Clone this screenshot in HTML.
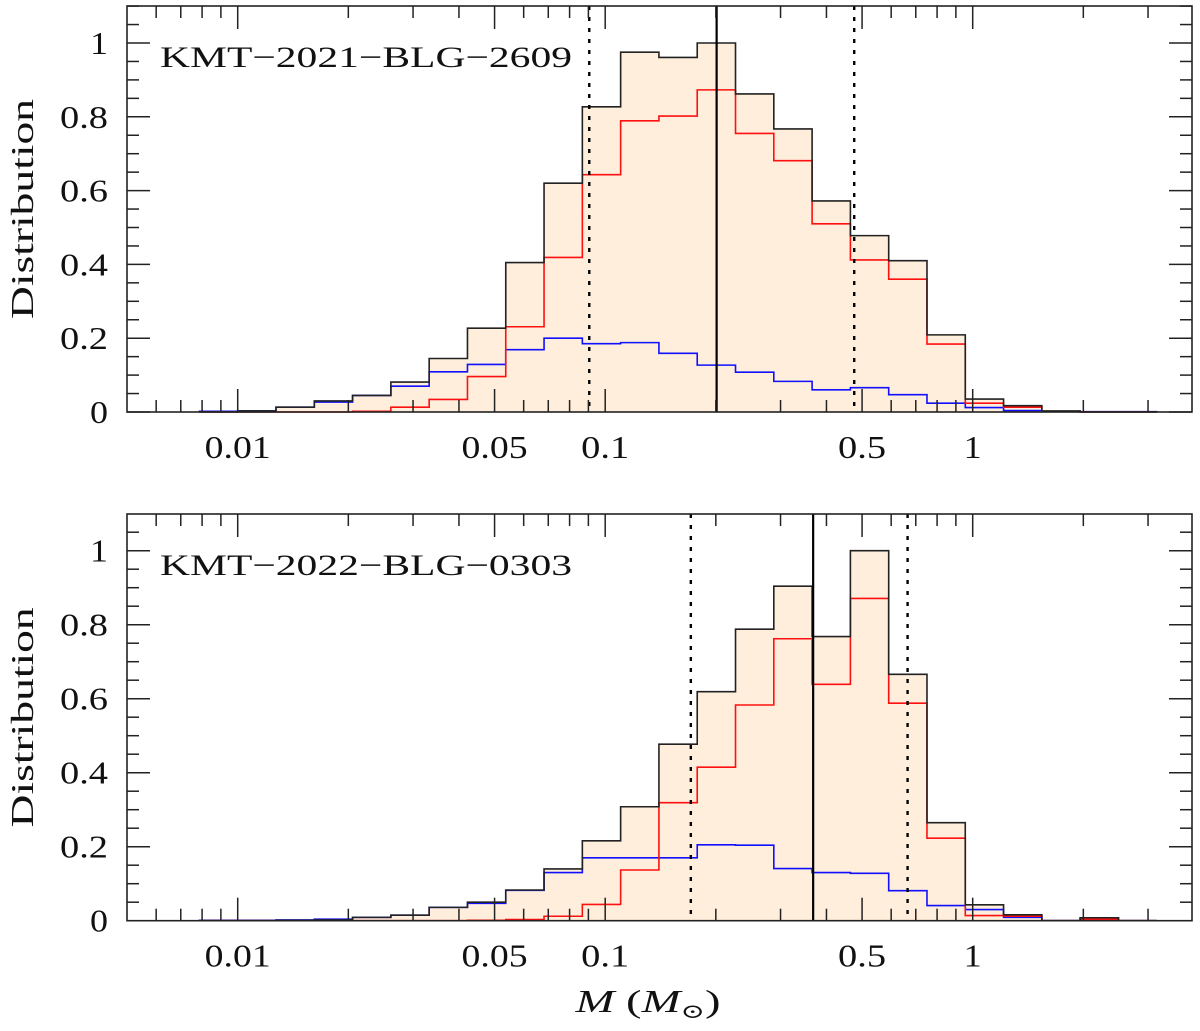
<!DOCTYPE html>
<html><head><meta charset="utf-8"><style>
html,body{margin:0;padding:0;background:#fff;}
svg{display:block;font-family:"Liberation Serif","DejaVu Serif",serif;}
</style></head><body>
<svg id="chart" width="1200" height="1031" viewBox="0 0 1200 1031" xmlns="http://www.w3.org/2000/svg"></svg>
<script>
// ---- data ----
const binStartLog = -2.1042;
const binWidthLog = 0.1042;
const topTotal = [0,0.003,0.013,0.03,0.045,0.081,0.145,0.227,0.405,0.62,0.827,0.975,0.961,1.0,0.862,0.767,0.572,0.478,0.41,0.209,0.035,0.017,0.003,0,0];
const topRed = [0,0,0,0,0.002,0.013,0.034,0.096,0.231,0.419,0.643,0.789,0.802,0.873,0.755,0.681,0.51,0.412,0.36,0.184,0.024,0.013,0.002,0,0];
const topBlue = [0.002,0.003,0.013,0.027,0.045,0.07,0.109,0.129,0.169,0.2,0.185,0.188,0.159,0.127,0.108,0.083,0.06,0.066,0.047,0.024,0.012,0.004,0.002,0.001,0.001];
const topMedian = 0.201;
const topBounds = [0.0905, 0.476];
const botTotal = [0,0,0.001,0.002,0.009,0.015,0.036,0.05,0.083,0.14,0.216,0.308,0.477,0.619,0.788,0.904,0.768,1.0,0.666,0.265,0.043,0.016,0,0.008,0];
const botRed = [0,0,0,0,0,0,0,0.001,0.003,0.012,0.044,0.137,0.319,0.415,0.583,0.762,0.639,0.871,0.588,0.223,0.014,0.012,0,0.004,0];
const botBlue = [0.001,0.001,0.002,0.004,0.009,0.015,0.036,0.047,0.082,0.13,0.17,0.17,0.17,0.205,0.204,0.141,0.13,0.128,0.081,0.041,0.03,0.009,0,0.008,0];
const botMedian = 0.368;
const botBounds = [0.171, 0.665];
const xTickLabels = ["0.01","0.05","0.1","0.5","1"];
const xTickValues = [0.01,0.05,0.1,0.5,1];
const yTickValues = [0,0.2,0.4,0.6,0.8,1];
const yTickLabels = ["0","0.2","0.4","0.6","0.8","1"];

const NS = "http://www.w3.org/2000/svg";
const svg = document.getElementById('chart');
const X0 = 127, X1 = 1192;
function xLog(l){ return 237.7 + (l + 2) * 367.5; }
function xVal(v){ return xLog(Math.log10(v)); }
function mk(tag, attrs, parent){
  const e = document.createElementNS(NS, tag);
  for (const k in attrs) e.setAttribute(k, attrs[k]);
  (parent || svg).appendChild(e);
  return e;
}
function labelLen(s){ let w = 0; for (const c of s) w += (c === '.') ? 12 : 18; return w; }
function stepPath(vals, yS, closeFill){
  let d = "";
  const n = vals.length;
  const xs = i => xLog(binStartLog + i * binWidthLog);
  d += "M" + xs(0) + "," + yS(0);
  for (let i = 0; i < n; i++){
    d += " L" + xs(i) + "," + yS(vals[i]) + " L" + xs(i+1) + "," + yS(vals[i]);
  }
  d += " L" + xs(n) + "," + yS(0);
  if (closeFill) d += " Z";
  return d;
}
function panel(name, top, bottom, zeroY, unit, total, red, blue, median, bounds, label, labelY){
  const yS = v => zeroY - v * unit;
  const g = mk('g', {});
  
  
  const fill = mk('path', {d: stepPath(total, yS, true), fill: '#feeedb', stroke: 'none'}, g);
  
  
  const bl = mk('path', {d: stepPath(blue, yS, false), fill: 'none', stroke: '#1010ff', 'stroke-width': 1.6}, g);
  
  
  const rd = mk('path', {d: stepPath(red, yS, false), fill: 'none', stroke: '#ff1010', 'stroke-width': 1.6}, g);
  
  
  const bk = mk('path', {d: stepPath(total, yS, false), fill: 'none', stroke: '#222', 'stroke-width': 1.6}, g);
  
  
  const ml = mk('line', {x1: xVal(median), x2: xVal(median), y1: top, y2: bottom, stroke: '#000', 'stroke-width': 2.2}, g);
  
  
  bounds.forEach(b => {
    const dl = mk('line', {x1: xVal(b), x2: xVal(b), y1: top, y2: bottom, stroke: '#000', 'stroke-width': 2.4, 'stroke-dasharray': '4,7'}, g);
    
    
  });
  const fr = mk('rect', {x: X0, y: top, width: X1 - X0, height: bottom - top, fill: 'none', stroke: '#222', 'stroke-width': 1.6}, g);
  
  
  for (let dec = -3; dec <= 0; dec++){
    for (let m = 1; m <= 9; m++){
      const v = m * Math.pow(10, dec);
      const x = xVal(v);
      if (x < X0 + 2 || x > X1 - 2) continue;
      const major = (m === 1 || m === 5) && v <= 1;
      const L = major ? 23 : 12;
      mk('line', {x1: x, x2: x, y1: bottom, y2: bottom - L, stroke: '#222', 'stroke-width': 1.5}, g);
      mk('line', {x1: x, x2: x, y1: top, y2: top + L, stroke: '#222', 'stroke-width': 1.5}, g);
    }
  }
  xTickValues.forEach((v, i) => {
    const t = mk('text', {x: xVal(v), y: bottom + 46, 'text-anchor': 'middle', 'font-size': 32, fill: '#111', textLength: labelLen(xTickLabels[i]), lengthAdjust: 'spacingAndGlyphs'}, g);
    t.textContent = xTickLabels[i];
    
    
  });
  for (let k = 0; k * 0.05 <= (zeroY - top) / unit + 1e-6; k++){
    const y = yS(k * 0.05);
    const L = (k % 4 === 0) ? 23 : 12;
    mk('line', {x1: X0, x2: X0 + L, y1: y, y2: y, stroke: '#222', 'stroke-width': 1.5}, g);
    mk('line', {x1: X1, x2: X1 - L, y1: y, y2: y, stroke: '#222', 'stroke-width': 1.5}, g);
  }
  yTickValues.forEach((v, i) => {
    const t = mk('text', {x: 108, y: yS(v) + 11, 'text-anchor': 'end', 'font-size': 32, fill: '#111', textLength: labelLen(yTickLabels[i]), lengthAdjust: 'spacingAndGlyphs'}, g);
    t.textContent = yTickLabels[i];
    
    
  });
  const yl = mk('text', {x: 0, y: 0, 'text-anchor': 'middle', 'font-size': 32, fill: '#111', textLength: 220, lengthAdjust: 'spacingAndGlyphs', transform: 'translate(33,' + ((top + bottom) / 2) + ') rotate(-90)'}, g);
  yl.textContent = 'Distribution';
  
  
  const lb = mk('text', {x: 160, y: labelY, 'font-size': 30, fill: '#111', textLength: 412, lengthAdjust: 'spacingAndGlyphs'}, g);
  lb.textContent = label;
  
  
}
panel('top-panel', 6, 412, 412, 369, topTotal, topRed, topBlue, topMedian, topBounds, 'KMT\u22122021\u2212BLG\u22122609', 67);
panel('bottom-panel', 514, 920.7, 920.7, 370, botTotal, botRed, botBlue, botMedian, botBounds, 'KMT\u22122022\u2212BLG\u22120303', 575);
const xt = mk('text', {x: 648, y: 1012, 'text-anchor': 'middle', 'font-size': 32, fill: '#111', textLength: 145, lengthAdjust: 'spacingAndGlyphs'});


xt.innerHTML = '<tspan font-style="italic">M</tspan>  (<tspan font-style="italic">M</tspan><tspan font-size="20" dy="6">\u2299</tspan><tspan dy="-6">)</tspan>';
</script>
</body></html>
